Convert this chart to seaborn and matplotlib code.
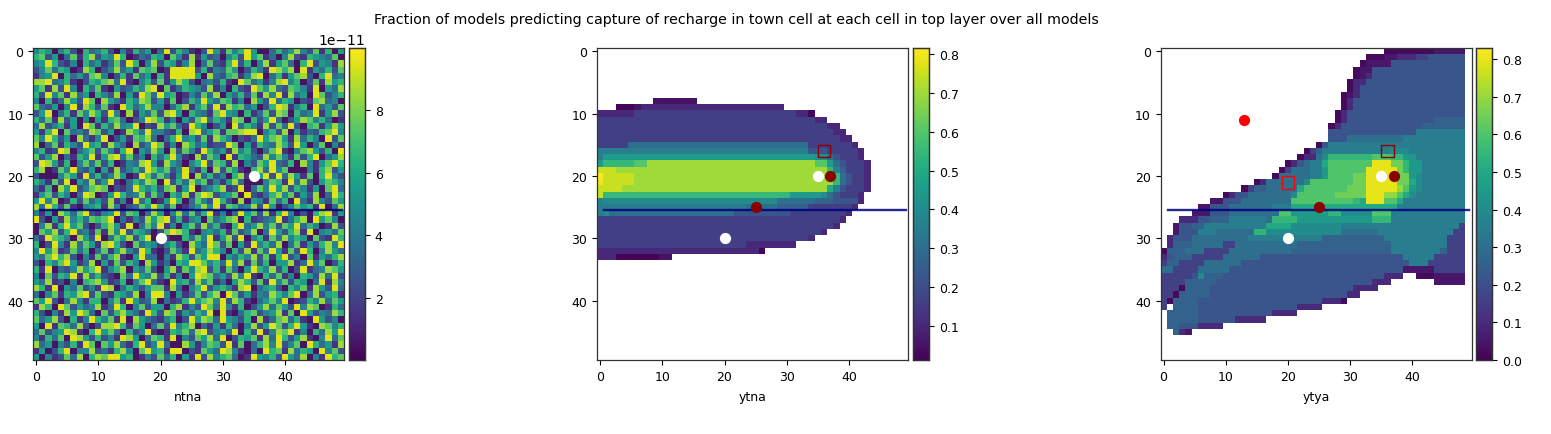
import numpy as np
import matplotlib
matplotlib.use("Agg")
import matplotlib.pyplot as plt
from matplotlib.ticker import ScalarFormatter
import seaborn as sns

# values, one digit per cell, in units of 1e-11
ntna_rows = [
    "4650462063 4620416350 3926410295 1746950036 3584271605",
    "6725037168 2549601326 5074181523 0462957130 4821654370",
    "4596214063 5137296048 2651480372 1692604815 7306925418",
    "2473650186 0248351767 0199992614 3750264198 6809153627",
    "1459063527 8402617350 6199995083 2671489036 1578206934",
    "8893461026 5783910462 7158620342 6109735148 9460271856",
    "5718294063 7105236489 0713654281 4062197583 2764190538",
    "6294718350 6428051973 9560142738 0536271849 1835097246",
    "4061385297 0853164872 5170264953 7614085293 6502178340",
    "7325049186 2710963584 4036815729 1867350269 8146093527",
    "2590361748 6294081537 2895064317 9540613728 7063491582",
    "6371825040 5167302498 6140527936 4187062593 0258746301",
    "3824615097 1638459021 8573196402 5093641827 3920671585",
    "5169073428 7250186394 4216089357 1778990462 8051326794",
    "7496250831 4902517683 0369452718 6402139578 5183640927",
    "8037164295 6185308249 7140863512 2970516438 6295037041",
    "4612980357 2741690538 5082741963 5184620379 1047852609",
    "7258031649 1589372406 3694108275 0916532847 4172690358",
    "2985160473 7260143895 1853046927 6180427593 2608415796",
    "6801749325 0518246397 5724931608 2751068394 7000416825",
    "2000475193 6248501973 7415908362 4068135929 3851706942",
    "6417290538 2591036487 0926385714 1583000476 1938205764",
    "3160859247 8702139646 2781590346 8129037495 8264150793",
    "1572640398 0159634827 3064817982 4570921368 4715280396",
    "5948016273 5281409360 1596037429 6208054173 6093184275",
    "8396271045 6184023759 6270135849 1763482950 2475619038",
    "4150863792 1459276038 5048372691 4039572816 9402068915",
    "9205184637 6790314285 8926145073 5780612349 1368095740",
    "0481695720 2685190374 9140572836 1069358472 7593640182",
    "0758269341 7184926530 2798610453 6172480395 2681904537",
    "3197640852 9037582690 9100637491 5829046173 8465072196",
    "6029418375 1896207354 1462085397 2705194638 0371526849",
    "4958127360 3715842961 0274193586 4062817395 1729604853",
    "5379682041 7268105933 0418627599 0536482716 9240715368",
    "2064795138 0517264085 1306599746 3948172605 5813947026",
    "6190324857 9146805372 0581748926 1730596482 6029134875",
    "4072659183 6210739548 2614059873 5284910637 1406528392",
    "5381204067 8512604793 1095628471 3058627194 7265039184",
    "8619053724 1980364257 7183046925 6418903562 0647185293",
    "3047165892 7216538049 9405137268 0972514386 4790382561",
    "7592038416 6047195238 0312695784 9286103574 9012648375",
    "1860972534 8139604725 5068142973 9416025837 5294870163",
    "6204185973 0726853196 2871536490 9103672458 1709524386",
    "7358206149 6471908532 1460295873 9542608137 8361095240",
    "5091763820 2889617503 7294680315 1630482597 2695108746",
    "3724598106 9573062491 0165738924 5390629148 7914063859",
    "4163709852 6241985037 6190427583 9026571839 6258104937",
    "8350426197 0758316924 9300851476 2917036849 2470963518",
    "1502690448 2316840795 6199021753 9841030967 1836509472",
    "5041273806 8799560142 7360519284 6730195462 9538041967",
]

# codes for the two capture panels: "." = no value
capture_codes = "0123456789abcdefgh"
capture_levels = [0.02, 0.05, 0.10, 0.16, 0.22, 0.26, 0.30, 0.35, 0.40, 0.45,
                  0.50, 0.55, 0.60, 0.65, 0.70, 0.75, 0.80, 0.83]

# run lengths per row, "29e" means 29 cells of code e, a letter count is base 36
ytna_rows = [
    "", "", "", "", "", "", "", "",
    "9. 71",
    "3. 30 11 232",
    "62 263 22 10",
    "353 22",
    "373 22",
    "383 22",
    "393 22",
    "53 296 73 12",
    "347 34 53 12",
    "17 349 28 16 14 33 12",
    "19 5b 2c 27e 2c 19 16 14 33 12",
    "3f 34e 1b 17 15 33 12",
    "1h 5f 32e 1b 16 14 23 12",
    "1g 5f 32e 1b 16 14 23 12",
    "4f 33e 1a 17 14 33 12",
    "1f 30b 59 18 16 14 33 12",
    "17 288 66 35 44 12",
    "247 56 55 73 12",
    "17 18 206 94 93 12",
    "393 12",
    "383 12",
    "363 12",
    "343 12",
    "243 82",
    "262 10",
    "32 70 21",
]

ytya_rows = [
    "36. 80 51",
    "33. 30 21 32 23 64",
    "32. 10 41 124",
    "31. 10 21 154",
    "31. 10 11 12 154",
    "30. 10 22 164",
    "30. 10 12 174",
    "29. 10 11 12 174",
    "29. 10 12 184",
    "29. 10 12 184",
    "28. 10 12 194",
    "28. 10 12 144 55",
    "27. 10 12 134 75",
    "27. 144 87",
    "27. 34 96 107",
    "25. 10 14 227",
    "23. 10 13 15 117 38 97",
    "22. 10 22 16 18 7b 3c 2b 29 87",
    "20. 10 12 14 16 27 1a 7c 3g 2d 1b 29 77",
    "19. 10 13 36 27 19 6c 5g 1d 1b 29 77",
    "18. 10 56 27 19 4c 2d 5g 2d 19 18 77",
    "15. 10 12 66 18 7c 2d 5g 2d 1a 18 77",
    "13. 10 13 25 56 1a 7c 3d 5g 1e 1c 19 18 77",
    "10. 10 12 24 76 18 6c 5d 3g 2e 1c 1a 18 87",
    "8. 21 34 86 ac 1b 1a 3g 2c 1a a7",
    "6. 21 34 76 37 ha b7",
    "5. 31 34 86 2c 69 2b 58 3c c7",
    "3. 32 24 35 67 16 4b c9 3b c7",
    "2. 11 24 25 a7 4a 88 j7 13",
    "2. 11 34 37 66 2b c8 66 c7 23",
    "1. 12 34 46 56 c7 a5 a7 33",
    "1. 12 35 56 23 a6 f5 97 33",
    "10 35 36 43 a6 g5 87 15 33",
    "12 14 35 53 66 n4 57 53",
    "13 25 43 66 r4 37 63",
    "26 43 56 s4 51 53",
    "53 14 18 35 q4 32 2. 30 51",
    "43 55 p4 32 7. 51",
    "33 10 45 n4 42",
    "23 10 55 m4 22",
    "13 10 45 k4 32 10",
    "13 1. 45 g4 42",
    "1. 55 c4 42",
    "1. 55 64 52",
    "1. 25 34 42",
    "2. 15 12 11",
]

# markers in image cell numbers
line_x = [0.7, 49.1]
line_y = [25.4, 25.4]
white_x = [35, 20]
white_y = [20, 30]
brown_x = [37, 25]
brown_y = [20, 25]
red_x = [13]
red_y = [11]
brown_box_x = [36]
brown_box_y = [16]
red_box_x = [20]
red_box_y = [21]

names = ["ntna", "ytna", "ytya"]
ticks = [0, 10, 20, 30, 40]
ntna_cbar_ticks = [2e-11, 4e-11, 6e-11, 8e-11]


def decode_runs(rows):
    grid = np.full((50, 50), np.nan)
    for r, row in enumerate(rows):
        c = 0
        for tok in row.split():
            count = tok[:-1]
            n = int(count) if count.isdigit() else int(count, 36)
            if tok[-1] != ".":
                grid[r, c:c + n] = capture_levels[capture_codes.index(tok[-1])]
            c += n
    return grid


def shift(values):
    # heatmap cells run from i to i+1, the picture numbers them at the centre
    return [v + 0.5 for v in values]


ntna = np.array([[(int(d) + 0.5) * 1e-11 for d in row.replace(" ", "")] for row in ntna_rows])
ytna = decode_runs(ytna_rows)
ytya = decode_runs(ytya_rows)

W, H = 1551, 435
fig = plt.figure(figsize=(W / 100, H / 100), dpi=100)

panels = [
    (ntna, 33, 349, 0.01e-11, 10e-11),
    (ytna, 597, 913, 0.012, 0.816),
    (ytya, 1160.5, 1476, 0.0, 0.83),
]

for (data, left, cleft, vmin, vmax), name in zip(panels, names):
    ax = fig.add_axes([left / W, 1 - 361 / H, 311 / W, 312 / H])
    cax = fig.add_axes([cleft / W, 1 - 361 / H, 16 / W, 312 / H])
    sns.heatmap(data, ax=ax, cbar_ax=cax, cmap="viridis", vmin=vmin, vmax=vmax,
                xticklabels=False, yticklabels=False)
    ax.set_xticks(shift(ticks), labels=ticks)
    ax.set_yticks(shift(ticks), labels=ticks, rotation=0)
    ax.tick_params(labelsize=9, length=3.5, width=0.8, left=True, bottom=True)
    ax.set_xlabel(name, fontsize=9, labelpad=5)
    for sp in list(ax.spines.values()) + list(cax.spines.values()):
        sp.set_visible(True)
        sp.set_linewidth(0.9)
        sp.set_color("#333333")
    cax.tick_params(labelsize=9, length=3.5, width=0.8)

    if name == "ntna":
        fmt = ScalarFormatter()
        fmt.set_powerlimits((-11, -11))
        cax.yaxis.set_major_formatter(fmt)
        cax.set_yticks(ntna_cbar_ticks)
        cax.yaxis.get_offset_text().set_fontsize(10)

    ax.plot(shift(line_x), shift(line_y), color="navy", lw=1.7, alpha=0.85)
    ax.scatter(shift(white_x), shift(white_y), color="white", s=50, zorder=3)
    if name != "ntna":
        ax.scatter(shift(brown_x), shift(brown_y), color="darkred", s=50, zorder=3)
        ax.scatter(shift(brown_box_x), shift(brown_box_y), marker="s",
                   facecolors="none", edgecolors="darkred", s=85, linewidths=1, zorder=3)
    if name == "ytya":
        ax.scatter(shift(red_x), shift(red_y), color="red", s=50, zorder=3)
        ax.scatter(shift(red_box_x), shift(red_box_y), marker="s",
                   facecolors="none", edgecolors="red", s=85, linewidths=1, zorder=3)

fig.text(736 / W, 1 - 20 / H, "Fraction of models predicting capture of recharge in town cell at each cell in top layer over all models",
         ha="center", va="center", fontsize=10.25)

plt.savefig("out.png", dpi=100)
